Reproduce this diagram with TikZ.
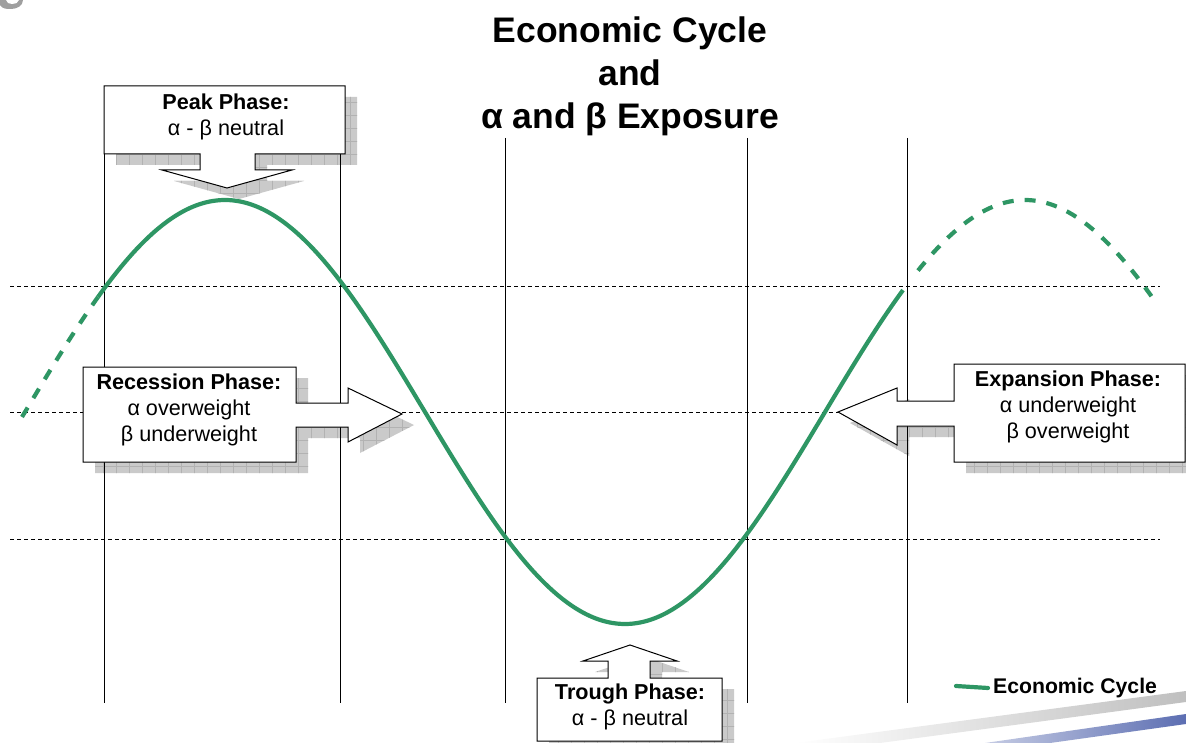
\documentclass[tikz,border=0pt]{standalone}
\usepackage{fontspec}
\setmainfont{Liberation Sans}
\definecolor{cyclegreen}{RGB}{46,150,100}
\definecolor{shadowgray}{RGB}{202,202,202}
\definecolor{gridgray}{RGB}{178,178,178}
\definecolor{swooshblue}{RGB}{92,110,178}
\def\peakpath{(104,86) -- (345,86) -- (345,154) -- (255,154) -- (255,170) -- (292,170) -- (227,188) -- (162,170) -- (200,170) -- (200,154) -- (104,154) -- cycle}
\def\recpath{(83,367) -- (296,367) -- (296,403) -- (348,403) -- (348,388) -- (402,414) -- (348,442) -- (348,427) -- (296,427) -- (296,462) -- (83,462) -- cycle}
\def\exppath{(954,364) -- (1185,364) -- (1185,462) -- (954,462) -- (954,426) -- (897,426) -- (897,445) -- (838,412) -- (897,388) -- (897,401) -- (954,401) -- cycle}
\def\troughpath{(537,678) -- (608,678) -- (608,661) -- (583,661) -- (630,645) -- (677,661) -- (650,661) -- (650,678) -- (722,678) -- (722,741) -- (537,741) -- cycle}
\newcommand{\calloutshadow}[1]{%
  \begin{scope}[shift={(12,11)}]
    \fill[shadowgray] #1;
    \begin{scope}
      \clip #1;
      \foreach \gx in {0,13,...,1200} \draw[gridgray, line width=0.6] (\gx,0) -- (\gx,760);
      \foreach \gy in {0,13,...,760} \draw[gridgray, line width=0.6] (0,\gy) -- (1200,\gy);
    \end{scope}
  \end{scope}}
\begin{document}
\begin{tikzpicture}[x=1pt,y=-1pt,
  calloutbox/.style={draw=black, fill=white, line width=1},
  vline/.style={draw=black, line width=0.9},
  hline/.style={draw=black, line width=0.7, dash pattern=on 4pt off 3pt},
  cycle line/.style={draw=cyclegreen, line width=4.2},
  cycle dash/.style={cycle line, dash pattern=on 11pt off 11pt},
  phasetext/.style={align=center, font=\fontsize{21.6}{26}\selectfont, inner sep=0},
]
\useasboundingbox (0,0) rectangle (1186,743);
% corner mark and swoosh
\fill[gray!75] (0,0) -- (23,0) to[out=-90,in=0] (11,9) to[out=180,in=-60] (0,5) -- cycle;
\fill[white] (6,0) -- (19,0) to[out=-100,in=0] (12,4) to[out=180,in=-80] (6,0) -- cycle;
\shade[left color=white, right color=gray!50] (795,743) -- (1186,691) -- (1186,702) -- (880,743) -- cycle;
\shade[left color=swooshblue!35, right color=swooshblue] (985,743) -- (1186,714) -- (1186,724) -- (1050,743) -- cycle;
% shadows
\calloutshadow{\peakpath}
\calloutshadow{\recpath}
\calloutshadow{\exppath}
\calloutshadow{\troughpath}
% guide lines
\foreach \yy in {286,412,539} \draw[hline] (10,\yy) -- (1160,\yy);
\foreach \xx in {104,340} \draw[vline] (\xx,86) -- (\xx,703);
\foreach \xx in {505,747,907} \draw[vline] (\xx,138) -- (\xx,703);
% economic cycle curve
\draw[cycle dash] plot[domain=22:98, samples=30] (\x, {412-212*cos((\x-225)*0.45)});
\draw[cycle line] plot[domain=98:903, samples=160, smooth] (\x, {412-212*cos((\x-225)*0.45)});
\draw[cycle dash] plot[domain=918:1152, samples=60] (\x, {412-212*cos((\x-225)*0.45)});
% callouts
\draw[calloutbox] \peakpath;
\draw[calloutbox] \recpath;
\draw[calloutbox] \exppath;
\draw[calloutbox] \troughpath;
% texts
\node[phasetext] (peaktext) at (226,117) {\textbf{Peak Phase:}\\α - β neutral};
\node[phasetext] (rectext) at (189,410) {\textbf{Recession Phase:}\\α overweight\\β underweight};
\node[phasetext] (exptext) at (1068,407) {\textbf{Expansion Phase:}\\α underweight\\β overweight};
\node[phasetext] (troughtext) at (630,707) {\textbf{Trough Phase:}\\α - β neutral};
\node[align=center, font=\fontsize{35.5}{43}\selectfont\bfseries, inner sep=0] (title) at (630,76) {Economic Cycle\\and\\α and β Exposure};
% legend
\node[anchor=west, font=\fontsize{21.2}{24}\selectfont\bfseries, inner sep=0] (legendtext) at (993,688) {Economic Cycle};
\coordinate (legendstart) at (956,686);
\draw[cycle line, line cap=round] (legendstart) -- ([xshift=-5]legendtext.west);
\end{tikzpicture}
\end{document}
